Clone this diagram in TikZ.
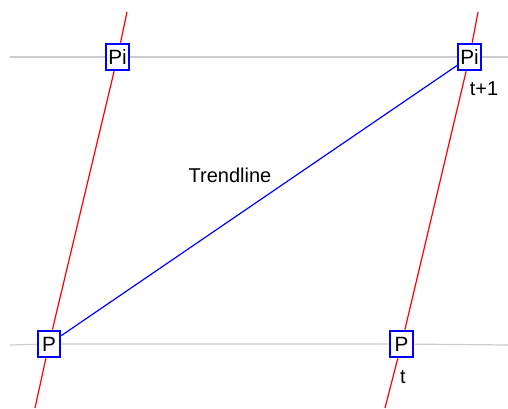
\documentclass[tikz,border=0pt]{standalone}
\usepackage{fontspec}
\setmainfont{Liberation Sans}
\begin{document}
\begin{tikzpicture}[
    x=0.75pt, y=-0.75pt,
    level/.style={draw=black!20, line width=0.9pt},
    slope/.style={draw=red, line width=0.9pt},
    trend/.style={draw=blue, line width=0.9pt},
    pbox/.style={draw=blue, fill=white, line width=1.4pt, inner sep=0pt,
        minimum width=17pt, minimum height=20pt, font=\fontsize{15.5}{16}\selectfont},
    lbl/.style={inner sep=0pt, font=\fontsize{15}{16}\selectfont}
]
\useasboundingbox (0,0) rectangle (508,408);
% free ends
\coordinate (gl1) at (10,57);
\coordinate (gr1) at (508,57);
\coordinate (gl2) at (10,345);
\coordinate (gr2) at (508,345);
\coordinate (lt) at (127,12);
\coordinate (lb) at (35,408);
\coordinate (rt) at (478,12);
\coordinate (rb) at (385,408);
% boxes
\node[pbox] (pi1) at (117.5,57) {Pi};
\node[pbox] (pi2) at (469.5,57) {Pi};
\node[pbox] (p1) at (49,344) {P};
\node[pbox] (p2) at (401.5,344) {P};
% lines
\draw[level] (gl1) -- (pi1) -- (pi2) -- (gr1);
\draw[level] (gl2) -- (p1) -- (p2) -- (gr2);
\draw[slope] (lt) -- (pi1) -- (p1) -- (lb);
\draw[slope] (rt) -- (pi2) -- (p2) -- (rb);
\draw[trend] (p1) -- (pi2);
% labels
\node[lbl] (tnext) at (484,89) {t+1};
\node[lbl] (tnow) at (403,377) {t};
\node[lbl] (tl) at (230,175) {Trendline};
\end{tikzpicture}
\end{document}
